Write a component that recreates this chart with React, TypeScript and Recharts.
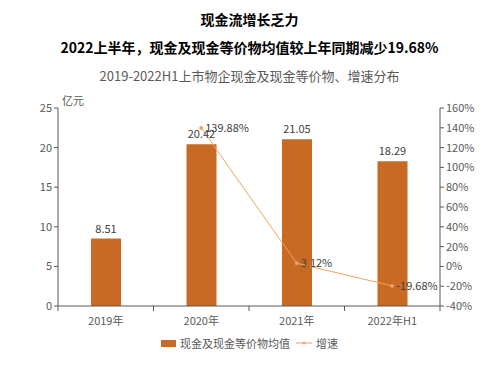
import { ComposedChart, Bar, Line, XAxis, YAxis, LabelList } from "recharts"

const categories = ["2019年", "2020年", "2021年", "2022年H1"]
const cashValues = [8.51, 20.42, 21.05, 18.29]
const growthValues: (number | null)[] = [null, 139.88, 3.12, -19.68]
const leftTicks = [0, 5, 10, 15, 20, 25]
const rightTicks = [-40, -20, 0, 20, 40, 60, 80, 100, 120, 140, 160]

const data = categories.map((name, i) => ({
  name,
  cash: cashValues[i],
  growth: growthValues[i],
}))

const BAR = "#C96A24"
const LINE = "#EFA35E"
const AXIS = "#595959"
const FONT = "'Noto Sans CJK SC', 'Noto Sans', sans-serif"

function CategoryTick(props: any) {
  const { x, y, payload, index, visibleTicksCount } = props
  const off = payload.offset || 0
  return (
    <g>
      <line x1={x - off} x2={x - off} y1={y - 8} y2={y - 3} stroke={AXIS} />
      {index === visibleTicksCount - 1 && (
        <line x1={x + off} x2={x + off} y1={y - 8} y2={y - 3} stroke={AXIS} />
      )}
      <text x={x} y={y + 11} textAnchor="middle" fill={AXIS} fontSize={11} fontFamily={FONT}>
        {payload.value}
      </text>
    </g>
  )
}

export default function App() {
  return (
    <div style={{ position: "absolute", left: 0, top: 0, width: 499, height: 372, background: "#fff", fontFamily: FONT }}>
      <div style={{ position: "absolute", top: 9, width: 499, textAlign: "center", fontSize: 14, fontWeight: 700, color: "#000" }}>
        现金流增长乏力
      </div>
      <div style={{ position: "absolute", top: 37, width: 499, textAlign: "center", fontSize: 14, fontWeight: 700, color: "#000" }}>
        2022上半年，现金及现金等价物均值较上年同期减少19.68%
      </div>
      <div style={{ position: "absolute", top: 66, width: 499, textAlign: "center", fontSize: 13, color: "#595959" }}>
        2019-2022H1上市物企现金及现金等价物、增速分布
      </div>
      <div style={{ position: "absolute", top: 92, left: 62, fontSize: 11, color: AXIS }}>亿元</div>

      <ComposedChart width={499} height={372} data={data} margin={{ top: 108, right: 14, left: 18, bottom: 36 }}>
        <XAxis
          dataKey="name"
          height={30}
          tickLine={false}
          stroke={AXIS}
          tick={<CategoryTick />}
          interval={0}
        />
        <YAxis
          yAxisId="left"
          width={40}
          domain={[0, 25]}
          ticks={leftTicks}
          stroke={AXIS}
          tickSize={4}
          tick={{ fontSize: 11, fill: AXIS, fontFamily: FONT }}
        />
        <YAxis
          yAxisId="right"
          orientation="right"
          width={45}
          domain={[-40, 160]}
          ticks={rightTicks}
          stroke={AXIS}
          tickSize={4}
          tickFormatter={(v) => `${v}%`}
          tick={{ fontSize: 11, fill: AXIS, fontFamily: FONT }}
        />
        <Bar yAxisId="left" dataKey="cash" fill={BAR} barSize={30} isAnimationActive={false}>
          <LabelList dataKey="cash" position="top" offset={6} fill="#404040" fontSize={11} fontFamily={FONT} />
        </Bar>
        <Line
          yAxisId="right"
          dataKey="growth"
          stroke={LINE}
          strokeWidth={1}
          dot={{ r: 1.5, fill: LINE, stroke: LINE }}
          isAnimationActive={false}
        >
          <LabelList
            dataKey="growth"
            position="right"
            offset={4}
            fill="#404040"
            fontSize={11}
            fontFamily={FONT}
            formatter={(v: any) => (v == null ? "" : `${v.toFixed(2)}%`)}
          />
        </Line>
      </ComposedChart>

      <div style={{ position: "absolute", top: 335, left: 0, width: 499, display: "flex", justifyContent: "center", alignItems: "center", fontSize: 11, color: AXIS }}>
        <span style={{ display: "inline-block", width: 15, height: 7, background: BAR, marginRight: 4 }} />
        <span style={{ marginRight: 6 }}>现金及现金等价物均值</span>
        <svg width={16} height={8} style={{ marginRight: 4 }}>
          <line x1={0} x2={16} y1={4} y2={4} stroke={LINE} />
          <circle cx={8} cy={4} r={1.5} fill={LINE} />
        </svg>
        <span>增速</span>
      </div>
    </div>
  )
}
